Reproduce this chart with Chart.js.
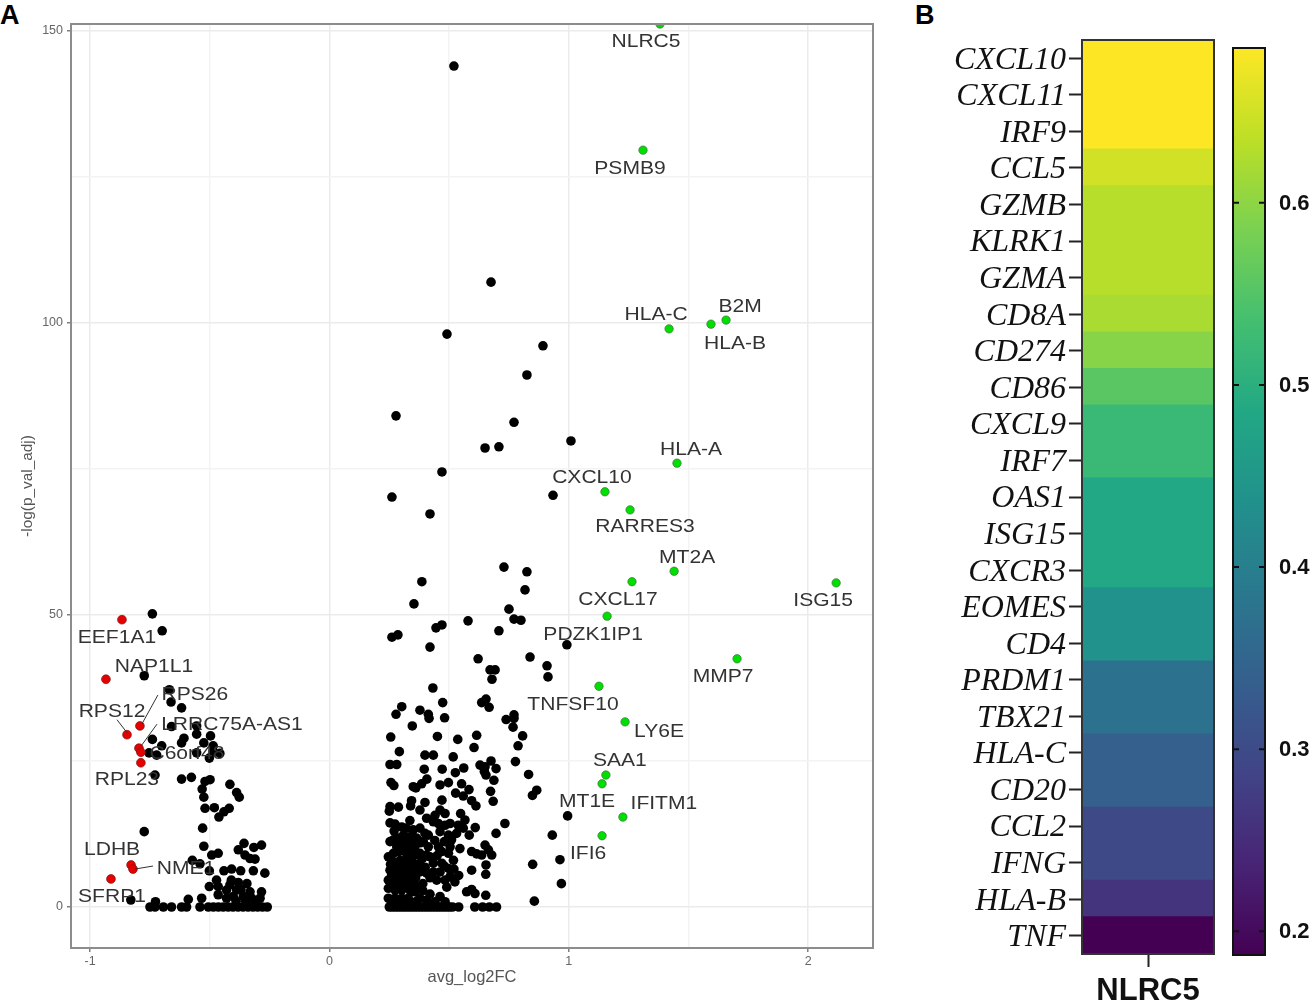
<!DOCTYPE html>
<html lang="en">
<head>
    <meta charset="UTF-8">
    <title>NLRC5 volcano and heatmap</title>
    <script src="https://cdn.jsdelivr.net/npm/chart.js"></script>
    <style>
        html, body { margin: 0; padding: 0; background: #fff; overflow: hidden; }
        canvas { position: absolute; top: 0; }
        #volcano { left: 0; }
        #heat { left: 910px; }
        #colorbar { left: 1225px; }
        .panel { position: absolute; top: 0; font: bold 27px "Liberation Sans", Arial, sans-serif; color: #000; }
    </style>
</head>
<body>
    <div class="panel" style="left:0">A</div>
    <div class="panel" style="left:915px">B</div>
    <canvas id="volcano" width="880" height="1004"></canvas>
    <canvas id="heat" width="315" height="1004"></canvas>
    <canvas id="colorbar" width="90" height="1004"></canvas>

    <script>
        // volcano, labelled genes
        const upGenes = ['NLRC5','PSMB9','HLA-C','HLA-B','B2M','HLA-A','CXCL10','RARRES3','MT2A','CXCL17','ISG15','PDZK1IP1','MMP7','TNFSF10','LY6E','SAA1','MT1E','IFITM1','IFI6'];
        const upLog2FC = [1.381,1.31,1.419,1.594,1.657,1.452,1.151,1.256,1.44,1.264,2.117,1.16,1.703,1.126,1.235,1.155,1.139,1.226,1.139];
        const upLogP = [151.2,129.6,99.0,99.8,100.5,76.0,71.1,68.0,57.5,55.7,55.5,49.8,42.5,37.8,31.7,22.6,21.1,15.4,12.2];

        const downGenes = ['EEF1A1','NAP1L1','RPS26','RPS12','LRRC75A-AS1','C6orf48','RPL23','LDHB','NME1','SFRP1'];
        const downLog2FC = [-0.867,-0.934,-0.792,-0.846,-0.796,-0.788,-0.788,-0.829,-0.821,-0.913];
        const downLogP = [49.2,39.0,31.0,29.5,27.2,26.5,24.7,7.2,6.5,4.8];

        // volcano, unlabelled genes [log2FC, -log p]
        const otherUp = [
            [.52,144],[.675,107],[.491,98.1],[.892,96.1],[.825,91.1],[.278,84.1],[.771,83],[.65,78.6],[.708,78.8],[1.009,79.8],
            [.47,74.5],[.261,70.2],[.934,70.5],[.42,67.3],[.729,58.2],[.825,57.4],[.386,55.7],[.817,54.3],[.353,51.9],[.75,51],
            [.579,49],[.771,49.3],[.8,49.1],[.47,48.3],[.445,47.8],[.708,47.3],[.286,46.6],[.261,46.2],[.42,44.5],[.992,44.9],
            [.621,42.5],[.838,42.8],[.909,41.3],[.913,39.4],[.671,40.6],[.692,40.6],[.679,39],[.432,37.5],
            [.302,34.3],[.278,33],[.378,33.7],[.413,33],[.416,32.3],[.481,32.4],[.473,35],[.346,31],[.636,35],[.654,35.6],[.667,34.2],
            [.738,32.1],[.771,32.9],[.771,32.3],[.767,30.8],[.807,29.3],[.615,29.4],[.604,27.3],[.788,27.6],[.256,29.1],[.451,29.2],
            [.536,28.7],[.292,26.6],[.399,26],[.434,26],[.517,25.7],[.253,24.4],[.281,24.4],[.396,23.6],[.471,23.6],[.526,23],[.561,23.8],
            [.629,24.3],[.65,24],[.647,23.2],[.654,22.6],[.675,25],[.696,23.7],[.777,24.9],[.832,22.7],[.687,21.7],[.407,21.9],[.385,21.1],
            [.35,20.6],[.361,20.4],[.257,21.3],[.269,20.8],[.462,20.9],[.497,21.3],[.552,21.1],[.583,20.1],[.527,19.5],[.559,19],[.673,19.8],
            [.684,18.1],[.594,18.2],[.612,17.3],[.47,18.3],[.866,20],[.848,19.1],[.343,18.2],[.339,17.3],[.399,17.9],[.378,16.6],
            [.253,17.2],[.288,17.1],[.25,16.4],[.462,16.6],[.441,15.7],[.483,16],[.548,16],[.566,14.9],[.995,15.6],[.733,14.3],[.609,13.6],
            [.696,12.6],[.931,12.3],[.584,12.3],[.963,8.1],[.849,7.3],[.969,4],[.856,1],[.65,10.6],[.664,9.8],[.678,8.9],[.594,9.5],[.615,9.1],
            [.636,8.9],[.545,10],[.654,7.2],[.653,5.6],[.594,6.3],[.573,2.6],[.594,3],[.608,2.3],[.653,2],
            [.253,14.4],[.274,14.2],[.302,13.7],[.336,14.8],[.406,15.2],[.434,14.6],[.455,14.3],[.483,14],[.504,14.3],[.538,14],[.559,13.5],
            [.322,13.5],[.35,13.2],[.378,13.5],[.399,12.6],[.413,12.3],[.462,12.9],[.497,12.3],[.531,12.6],
            [.267,11.5],[.253,11.2],[.288,11.8],[.309,12.3],[.336,12],[.364,11.8],[.392,11.2],[.413,10.3],[.357,10.3],[.322,10.6],[.281,10.3],[.455,10.3],[.504,10.3],
            [.246,8.6],[.267,9.2],[.343,9.5],[.378,9.2],[.406,8.9],[.469,9.5],[.497,9.2],[.518,8],
            [.267,6.9],[.295,8],[.322,8.3],[.35,7.5],[.378,7.5],[.434,7.5],[.469,7.5],[.497,6.6],[.253,6.3],
            [.246,4.6],[.274,5.8],[.302,5.8],[.329,5.8],[.35,6],[.274,4.3],[.302,4.3],[.329,4.3],[.35,4.6],[.378,6],[.406,5.8],[.434,6],[.462,6],[.504,5.2],[.524,4.3],[.483,4.6],[.448,4.6],[.49,3.4],
            [.246,3.2],[.274,2.9],[.302,2.9],[.329,3.2],[.246,1.5],[.274,1.5],[.302,1.5],[.329,1.5],[.357,2.6],[.378,1.5],[.42,2.2],[.462,1.8],[.406,1.2],[.441,.9],[.483,.9],
            [.26,8],[.285,7],[.31,7],[.33,7],[.29,9.5],[.315,9.5],[.26,3.5],[.29,3.6],[.315,3.6],[.34,2.6],[.26,5.5],[.29,5],[.315,5],[.34,5],[.36,5],
            [.26,.9],[.288,.8],[.316,.9],[.344,.8],[.365,1],[.352,8.8],[.37,6.8],[.39,8.4],[.42,8.6],[.45,8.8],[.44,11.4],[.48,11.2],[.51,11.5],[.3,10.8],[.345,10.8],
            [.38,11],[.27,13],[.31,11.3],[.365,9],[.4,6.8],[.255,7.3],[.42,5],[.39,4],[.36,3.6],[.39,2.8],[.48,7],[.52,6.5],[.54,5.4],
            [.25,0],[.262,0],[.274,0],[.286,0],[.298,0],[.31,0],[.322,0],[.334,0],[.346,0],[.358,0],[.37,0],[.382,0],[.394,0],[.406,0],[.418,0],[.43,0],[.442,0],[.454,0],[.466,0],[.478,0],[.49,0],[.502,0],[.514,0],
            [.54,0],[.607,0],[.64,0],[.668,0],[.698,0]
        ];
        const otherDown = [
            [-.74,50.2],[-.699,47.3],[-.774,39.6],[-.669,37.2],[-.662,35.1],[-.618,34.1],[-.555,31],[-.555,29.6],[-.66,30.9],[-.497,29.3],
            [-.525,28.1],[-.486,27.6],[-.608,28.9],[-.618,28.1],[-.74,28.7],[-.701,27.6],[-.754,26.4],[-.722,26],[-.555,26.4],[-.486,26.6],
            [-.458,26.3],[-.502,25.5],[-.729,22.6],[-.618,21.9],[-.577,22.2],[-.499,21.8],[-.52,21.5],[-.532,20.2],[-.416,21],[-.388,19.6],
            [-.377,18.8],[-.525,18.8],[-.52,16.9],[-.481,17],[-.419,16.9],[-.441,16.3],[-.462,15.4],[-.53,13.5],[-.774,12.9],[-.525,10.4],
            [-.357,10.9],[-.381,9.8],[-.284,10.6],[-.316,10.2],[-.353,8.9],[-.311,8.2],[-.332,8.3],[-.492,8.9],[-.465,9.2],[-.573,8],[-.541,7.4],
            [-.502,6.2],[-.441,6.2],[-.409,6.5],[-.371,6.2],[-.318,6.2],[-.27,5.8],[-.472,4.6],[-.502,3.5],[-.465,3.5],[-.416,3.8],[-.381,4.2],[-.465,2.1],
            [-.43,2.9],[-.388,2.9],[-.332,2.6],[-.284,2.6],[-.29,1.5],[-.402,1.8],[-.36,1.8],[-.325,1.5],[-.43,1.5],[-.83,1.2],[-.727,.9],[-.59,1.3],[-.534,1.5],
            [-.41,4.6],[-.39,1],[-.37,3],[-.35,1],[-.345,4],[-.31,1],
            [-.75,0],[-.729,0],[-.694,0],[-.66,0],[-.618,0],[-.597,0],[-.541,0],[-.506,0],[-.485,0],[-.464,0],[-.444,0],[-.423,0],[-.403,0],[-.382,0],[-.361,0],[-.34,0],[-.32,0],[-.3,0],[-.28,0],[-.26,0]
        ];

        const xGridValues = [-1,-0.5,0,0.5,1,1.5,2];
        const xTickValues = [-1,0,1,2];
        const yGridValues = [0,25,50,75,100,125,150];
        const yTickValues = [0,50,100,150];

        // label offsets in px from the point [dx, dy], same order as the gene lists
        const upLabelOffsets = [[-14,17],[-13,17],[-13,-15],[24,18],[14,-15],[14,-15],[-13,-15],[15,16],[13,-15],[-14,17],[-13,17],[-14,17],[-14,17],[-26,17],[34,9],[14,-15],[-15,17],[41,-15],[-14,17]];
        const downLabelOffsets = [[-5,17],[48,-14],[55,-32],[-15,-24],[93,-25],[46,0],[-14,16],[-19,-16],[53,-2],[1,17]];
        // leader lines [gene, dx1, dy1, dx2, dy2], px from the point
        const leaders = [['RPS26',2,-2,18,-31],['LRRC75A-AS1',2,-2,18,-24],['RPS12',0,-2,-10,-15],['NME1',2,0,20,-3]];

        // heatmap
        const heatGenes = ['CXCL10','CXCL11','IRF9','CCL5','GZMB','KLRK1','GZMA','CD8A','CD274','CD86','CXCL9','IRF7','OAS1','ISG15','CXCR3','EOMES','CD4','PRDM1','TBX21','HLA-C','CD20','CCL2','IFNG','HLA-B','TNF'];
        const heatValues = [.685,.685,.685,.65,.63,.63,.63,.62,.595,.556,.521,.521,.486,.486,.486,.438,.438,.375,.375,.336,.336,.298,.298,.262,.187];
        const colorMin = 0.187;
        const colorMax = 0.685;
        const colorTicks = [0.2,0.3,0.4,0.5,0.6];
        const viridis = ['#440154','#482475','#414487','#355f8d','#2a788e','#21918c','#22a884','#44bf70','#7ad151','#bddf26','#fde725'];

        function viridisColor(v) {
            const t = Math.min(1, Math.max(0, (v - colorMin) / (colorMax - colorMin))) * (viridis.length - 1);
            const i = Math.min(viridis.length - 2, Math.floor(t));
            const a = parseInt(viridis[i].slice(1), 16);
            const b = parseInt(viridis[i + 1].slice(1), 16);
            const mix = shift => Math.round(((a >> shift) & 255) * (1 - (t - i)) + ((b >> shift) & 255) * (t - i));
            return `rgb(${mix(16)},${mix(8)},${mix(0)})`;
        }

        const sans = '"Liberation Sans", Arial, sans-serif';
        const pairs = (xs, ys) => xs.map((x, i) => ({ x: x, y: ys[i] }));
        const toXY = list => list.map(p => ({ x: p[0], y: p[1] }));

        // frame + gene labels for the volcano
        const volcanoLabels = {
            id: 'volcanoLabels',
            afterDraw(chart) {
                const { ctx, chartArea: a, scales: { x, y } } = chart;
                ctx.save();
                ctx.strokeStyle = '#8c8c8c';
                ctx.lineWidth = 2;
                ctx.strokeRect(a.left, a.top, a.right - a.left, a.bottom - a.top);

                const put = (names, xs, ys, offsets) => names.forEach((name, i) => {
                    const px = x.getPixelForValue(xs[i]);
                    const py = y.getPixelForValue(ys[i]);
                    const leader = leaders.find(l => l[0] === name);
                    if (leader) {
                        ctx.strokeStyle = '#333';
                        ctx.lineWidth = 1;
                        ctx.beginPath();
                        ctx.moveTo(px + leader[1], py + leader[2]);
                        ctx.lineTo(px + leader[3], py + leader[4]);
                        ctx.stroke();
                    }
                    ctx.save();
                    ctx.translate(px + offsets[i][0], py + offsets[i][1] + 1.5);
                    ctx.scale(1.17, 1); // the original figure is stretched sideways
                    ctx.fillStyle = '#333';
                    ctx.font = '18px ' + sans;
                    ctx.textAlign = 'center';
                    ctx.textBaseline = 'middle';
                    ctx.fillText(name, 0, 0);
                    ctx.restore();
                });
                put(upGenes, upLog2FC, upLogP, upLabelOffsets);
                put(downGenes, downLog2FC, downLogP, downLabelOffsets);
                ctx.restore();
            }
        };

        new Chart(document.getElementById('volcano'), {
            type: 'scatter',
            plugins: [volcanoLabels],
            data: {
                datasets: [
                    { data: pairs(upLog2FC, upLogP), backgroundColor: '#00e000', borderColor: '#3c6e3c', borderWidth: 0.7, pointRadius: 4.2, clip: 0, order: 1 },
                    { data: pairs(downLog2FC, downLogP), backgroundColor: '#e60000', borderColor: '#7a1a1a', borderWidth: 0.7, pointRadius: 4.4, clip: 0, order: 2 },
                    { data: toXY(otherUp), backgroundColor: '#000', pointRadius: 4.8, borderWidth: 0, order: 3 },
                    { data: toXY(otherDown), backgroundColor: '#000', pointRadius: 4.8, borderWidth: 0, order: 4 }
                ]
            },
            options: {
                responsive: false,
                animation: false,
                layout: { padding: { top: 24, right: 7, left: 19, bottom: 17 } },
                plugins: { legend: { display: false }, tooltip: { enabled: false } },
                scales: {
                    x: {
                        type: 'linear', min: -1.08, max: 2.271,
                        afterFit: s => { s.height = 39; },
                        afterBuildTicks: s => { s.ticks = xGridValues.map(v => ({ value: v })); },
                        border: { display: false },
                        grid: {
                            color: c => xTickValues.includes(c.tick.value) ? '#ebebeb' : '#f3f3f3',
                            tickColor: c => xTickValues.includes(c.tick.value) ? '#7f7f7f' : 'rgba(0,0,0,0)',
                            lineWidth: 1.5, tickLength: 4
                        },
                        ticks: {
                            autoSkip: false, maxRotation: 0, padding: 2, color: '#666', font: { size: 12.5, family: sans },
                            callback: v => xTickValues.includes(v) ? String(v) : ''
                        },
                        title: { display: true, text: 'avg_log2FC', color: '#555', font: { size: 16.5, family: sans }, padding: { top: 4, bottom: 0 } }
                    },
                    y: {
                        type: 'linear', min: -7.02, max: 151.2,
                        afterFit: s => { s.width = 52; },
                        afterBuildTicks: s => { s.ticks = yGridValues.map(v => ({ value: v })); },
                        border: { display: false },
                        grid: {
                            color: c => yTickValues.includes(c.tick.value) ? '#ebebeb' : '#f3f3f3',
                            tickColor: c => yTickValues.includes(c.tick.value) ? '#7f7f7f' : 'rgba(0,0,0,0)',
                            lineWidth: 1.5, tickLength: 4
                        },
                        ticks: {
                            autoSkip: false, padding: 4, color: '#666', font: { size: 12.5, family: sans },
                            callback: v => yTickValues.includes(v) ? String(v) : ''
                        },
                        title: { display: true, text: '-log(p_val_adj)', color: '#555', font: { size: 15.4, family: sans }, padding: { top: 0, bottom: 0 } }
                    }
                }
            }
        });

        // heatmap: one bar per gene, filled from its value
        const frame = color => ({
            id: 'frame',
            afterDraw(chart) {
                const { ctx, chartArea: a } = chart;
                ctx.save();
                ctx.strokeStyle = color;
                ctx.lineWidth = 2;
                ctx.strokeRect(a.left, a.top, a.right - a.left, a.bottom - a.top);
                ctx.restore();
            }
        });

        new Chart(document.getElementById('heat'), {
            type: 'bar',
            plugins: [frame('#333')],
            data: {
                labels: heatGenes,
                datasets: [{
                    data: heatGenes.map(() => 1),
                    backgroundColor: heatValues.map(viridisColor),
                    barPercentage: 1.06,
                    categoryPercentage: 1
                }]
            },
            options: {
                indexAxis: 'y',
                responsive: false,
                animation: false,
                layout: { padding: { top: 40, right: 11, left: 0, bottom: 0 } },
                plugins: { legend: { display: false }, tooltip: { enabled: false } },
                scales: {
                    x: {
                        type: 'linear', min: 0, max: 1,
                        afterFit: s => { s.height = 50; },
                        afterBuildTicks: s => { s.ticks = [{ value: 0.5 }]; },
                        border: { display: false },
                        grid: { drawOnChartArea: false, tickColor: '#222', tickWidth: 2, tickLength: 13 },
                        ticks: {
                            padding: 6, color: '#111', font: { size: 31, weight: 'bold', family: sans },
                            callback: () => 'NLRC5'
                        }
                    },
                    y: {
                        afterFit: s => { s.width = 172; },
                        border: { display: false },
                        grid: { offset: false, drawOnChartArea: false, tickColor: '#222', tickWidth: 2, tickLength: 13 },
                        ticks: {
                            autoSkip: false, padding: 3, labelOffset: 2, color: '#111',
                            font: { size: 32, style: 'italic', family: '"Liberation Serif", "Times New Roman", serif' }
                        }
                    }
                }
            }
        });

        // colour bar
        const barTicks = {
            id: 'barTicks',
            afterDraw(chart) {
                const { ctx, chartArea: a, scales: { y } } = chart;
                ctx.save();
                ctx.strokeStyle = '#111';
                ctx.lineWidth = 2;
                ctx.strokeRect(a.left, a.top, a.right - a.left, a.bottom - a.top);
                colorTicks.forEach(v => {
                    const py = y.getPixelForValue(v);
                    ctx.beginPath();
                    ctx.moveTo(a.left, py);
                    ctx.lineTo(a.left + 6, py);
                    ctx.moveTo(a.right - 6, py);
                    ctx.lineTo(a.right, py);
                    ctx.stroke();
                });
                ctx.restore();
            }
        };

        new Chart(document.getElementById('colorbar'), {
            type: 'bar',
            plugins: [barTicks],
            data: {
                labels: ['NLRC5'],
                datasets: [{
                    data: [[colorMin, colorMax]],
                    barPercentage: 1,
                    categoryPercentage: 1,
                    backgroundColor(c) {
                        const a = c.chart.chartArea;
                        if (!a) return viridis[5];
                        const g = c.chart.ctx.createLinearGradient(0, a.bottom, 0, a.top);
                        viridis.forEach((col, i) => g.addColorStop(i / (viridis.length - 1), col));
                        return g;
                    }
                }]
            },
            options: {
                responsive: false,
                animation: false,
                layout: { padding: { top: 48, right: 0, left: 8, bottom: 49 } },
                plugins: { legend: { display: false }, tooltip: { enabled: false } },
                scales: {
                    x: { display: false },
                    y: {
                        position: 'right',
                        min: colorMin, max: colorMax,
                        afterFit: s => { s.width = 50; },
                        afterBuildTicks: s => { s.ticks = colorTicks.map(v => ({ value: v })); },
                        border: { display: false },
                        grid: { display: false, drawTicks: false },
                        ticks: {
                            padding: 14, labelOffset: 1, color: '#111', font: { size: 22, weight: 'bold', family: sans },
                            callback: v => v.toFixed(1)
                        }
                    }
                }
            }
        });
    </script>
</body>
</html>
